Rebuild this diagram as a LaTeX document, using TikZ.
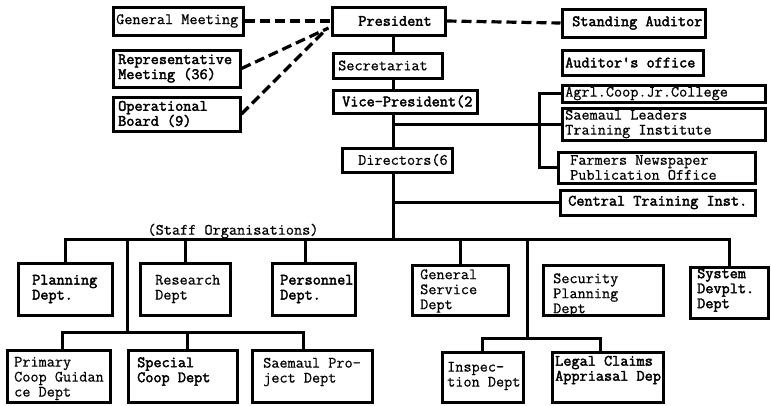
\documentclass[tikz,border=0pt]{standalone}
\usepackage{fontspec}
\newfontfamily\typeR[FakeBold=0.6]{Latin Modern Mono}
\newfontfamily\typeB[FakeBold=2.4]{Latin Modern Mono}
\usetikzlibrary{calc}
\begin{document}
\begin{tikzpicture}[x=1pt,y=-1pt,
  box/.style={draw, line width=3pt, inner sep=0pt, rectangle},
  lbl/.style={anchor=west, align=left, inner sep=0pt, font=\typeR\fontsize{15.8}{15}\selectfont},
  blbl/.style={lbl, font=\typeB\fontsize{15.8}{15}\selectfont},
  link/.style={line width=3pt},
  rel/.style={line width=3.2pt, dash pattern=on 10pt off 5pt},
]
\useasboundingbox (0,0) rectangle (771,405);

% ---- top level ----
\node[box, minimum width=130pt, minimum height=28pt] (gm) at (178,21) {};
\node[lbl] (gmT) at (116,21) {General Meeting};
\node[box, minimum width=113pt, minimum height=28pt] (pres) at (388.5,21) {};
\node[blbl, anchor=center] (presT) at (395,21) {President};
\node[box, minimum width=143pt, minimum height=28pt] (sa) at (633.5,23) {};
\node[blbl] (saT) at (572,23) {Standing Auditor};
\node[box, minimum width=127pt, minimum height=37pt] (rep) at (176.5,68.5) {};
\node[blbl] (repT) at (118,68.5) {Representative\\Meeting (36)};
\node[box, minimum width=127pt, minimum height=34pt] (op) at (176.5,114) {};
\node[blbl] (opT) at (118,114) {Operational\\Board (9)};

% ---- executive line ----
\node[box, minimum width=109pt, minimum height=25pt] (sec) at (387.5,65.5) {};
\node[lbl] (secT) at (338,65.5) {Secretariat};
\node[box, minimum width=144pt, minimum height=23pt] (vp) at (405,101.5) {};
\node[blbl] (vpT) at (342,101.5) {Vice-President(2};
\node[box, minimum width=110pt, minimum height=24pt] (dir) at (397,160) {};
\node[lbl] (dirT) at (358,160) {Directors(6};

% ---- affiliated bodies ----
\node[box, minimum width=141pt, minimum height=25pt] (ao) at (632.5,62.5) {};
\node[blbl] (aoT) at (565,62.5) {Auditor's office};
\node[box, minimum width=203pt, minimum height=17pt] (agrl) at (663.5,93.5) {};
\node[lbl] (agrlT) at (565,93.5) {Agrl.Coop.Jr.College};
\node[box, minimum width=203pt, minimum height=32pt] (sl) at (663.5,124) {};
\node[lbl] (slT) at (565,124) {Saemaul Leaders\\Training Institute};
\node[box, minimum width=197pt, minimum height=31pt] (fn) at (656.5,167.5) {};
\node[lbl] (fnT) at (570,167.5) {Farmers Newspaper\\Publication Office};
\node[box, minimum width=195pt, minimum height=25pt] (cti) at (657.5,202.5) {};
\node[blbl] (ctiT) at (568,202.5) {Central Training Inst.};

% ---- staff organisations ----
\node[lbl, anchor=center] (staff) at (233,231) {(Staff Organisations)};
\node[box, minimum width=94pt, minimum height=52pt] (plan) at (65,289) {};
\node[blbl] (planT) at (32,289) {Planning\\Dept.};
\node[box, minimum width=90pt, minimum height=52pt] (res) at (185,289) {};
\node[lbl] (resT) at (155,289) {Research\\Dept};
\node[box, minimum width=83pt, minimum height=52pt] (pers) at (313.5,289) {};
\node[blbl] (persT) at (280,289) {Personnel\\Dept.};
\node[box, minimum width=96pt, minimum height=50pt] (gs) at (460,290) {};
\node[lbl] (gsT) at (420,291) {General\\Service\\Dept};
\node[box, minimum width=120pt, minimum height=50pt] (sp) at (603,290) {};
\node[lbl] (spT) at (553,295) {Security\\Planning\\Dept};
\node[box, minimum width=78pt, minimum height=51pt] (sys) at (729,292.5) {};
\node[blbl] (sysT) at (697,290) {System\\Devplt.\\Dept};

% ---- line departments ----
\node[box, minimum width=103pt, minimum height=52pt] (pcg) at (58.5,376) {};
\node[lbl] (pcgT) at (14,378.5) {Primary\\Coop Guidan\\ce Dept};
\node[box, minimum width=109pt, minimum height=52pt] (sc) at (182.5,376) {};
\node[blbl] (scT) at (137,371.5) {Special\\Coop Dept};
\node[box, minimum width=120pt, minimum height=52pt] (spd) at (312,376) {};
\node[lbl] (spdT) at (263,372) {Saemaul Pro-\\ject Dept};
\node[box, minimum width=81pt, minimum height=50pt] (insp) at (482.5,377) {};
\node[lbl] (inspT) at (447,376) {Inspec-\\tion Dept};
\node[box, minimum width=111pt, minimum height=50pt] (lc) at (607.5,377) {};
\node[blbl] (lcT) at (555,370) {Legal Claims\\Appriasal Dep};

% ---- junction coordinates ----
\coordinate (t) at (393,0);
\coordinate (bus) at (0,239);
\coordinate (lsplit) at (127,239);
\coordinate (lbus) at (0,332);
\coordinate (rsplit) at (527,239);
\coordinate (rbus) at (0,338);
\coordinate (pd) at ($(pers.north)+(-8,0)$);
\coordinate (pcgd) at ($(pcg.north)+(3.5,0)$);
\coordinate (scd) at ($(sc.north)+(4.5,0)$);
\coordinate (spdd) at ($(spd.north)+(-9,0)$);
\coordinate (lcd) at ($(lc.north)+(-7.5,0)$);

% ---- advisory (dashed) relations ----
\draw[rel] (gm.east) -- (pres.west);
\draw[rel] (pres.east) -- (sa.west);
\draw[rel] (rep.east) -- ($(pres.west)+(-2,7)$);
\draw[rel] (op.east) -- ($(pres.west)+(-5,9)$);

% ---- line of command ----
\draw[link] (pres.south -| t) -- (sec.north -| t);
\draw[link] (sec.south -| t) -- (vp.north -| t);
\draw[link] (vp.south -| t) -- (dir.north -| t);
\draw[link] (sl.west -| t) -- (sl.west);
\draw[link] (agrl.west) -- ++(-21,0) |- (fn.west);
\draw[link] (dir.south -| t) -- (bus -| t);
\draw[link] (cti.west -| t) -- (cti.west);

% staff bus and drops
\draw[link] (plan.north) -- (plan.north |- bus) -- (sys.north |- bus) -- (sys.north);
\draw[link] (res.north) -- (res.north |- bus);
\draw[link] (pd) -- (pd |- bus);
\draw[link] (gs.north) -- (gs.north |- bus);

% left group of line departments
\draw[link] (lsplit) -- (lsplit |- lbus);
\draw[link] (pcgd) -- (pcgd |- lbus) -- (spdd |- lbus) -- (spdd);
\draw[link] (scd) -- (scd |- lbus);

% right group of line departments
\draw[link] (rsplit) -- (rsplit |- rbus);
\draw[link] (insp.north) -- (insp.north |- rbus) -- (lcd |- rbus) -- (lcd);
\end{tikzpicture}
\end{document}
